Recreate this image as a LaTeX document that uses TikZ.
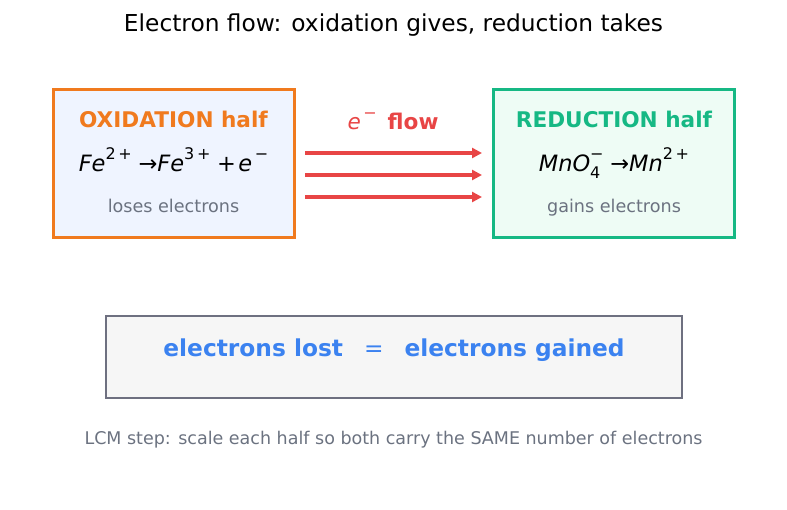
\documentclass[tikz,border=0pt]{standalone}
\usepackage{fontspec}
\setmainfont{DejaVu Sans}
\usetikzlibrary{arrows.meta}
\definecolor{oxc}{HTML}{F07A1E}
\definecolor{oxf}{HTML}{EFF4FF}
\definecolor{rdc}{HTML}{16B884}
\definecolor{rdf}{HTML}{EEFCF5}
\definecolor{flowc}{HTML}{E84545}
\definecolor{bluec}{HTML}{3B82F0}
\definecolor{grayt}{HTML}{6B7280}
\definecolor{botb}{HTML}{6E7080}
\definecolor{botf}{HTML}{F6F6F6}
\newcommand\fsz[1]{\fontsize{#1}{#1}\selectfont}
\newcommand\sps[1]{\raisebox{0.55em}{\fsz{16}\upshape #1}}
\newcommand\sbs[1]{\raisebox{-0.3em}{\fsz{16}\upshape #1}}
\tikzset{
  halfbox/.style={draw, line width=3pt, minimum width=241pt, minimum height=148pt, inner sep=0pt},
  flowarrow/.style={draw=flowc, line width=3.2pt, -{Triangle[length=10pt,width=10pt]}},
  txt/.style={inner sep=0pt, anchor=base},
}
\begin{document}
\begin{tikzpicture}[x=1pt,y=-1pt]
\useasboundingbox (0,0) rectangle (787,510);
\node[txt] (title) at (393.5,32) {\fsz{23.3}Electron flow: oxidation gives, reduction takes};
% oxidation box
\node[halfbox, draw=oxc, fill=oxf] (ox) at (173.5,163.5) {};
\node[txt, text=oxc] (oxh) at (173.5,128) {\fsz{21.6}\bfseries OXIDATION half};
\node[txt] (oxe) at (173.5,172) {\fsz{22.5}\itshape Fe\sps{2\,+}\hspace{0.3em}\upshape→\itshape Fe\sps{3\,+}\hspace{0.3em}\upshape+\hspace{0.1em}\itshape e\sps{\,−}};
\node[txt, text=grayt] (oxs) at (173.5,213) {\fsz{17.6}loses electrons};
% reduction box
\node[halfbox, draw=rdc, fill=rdf] (rd) at (614,163.5) {};
\node[txt, text=rdc] (rdh) at (614,128) {\fsz{21.6}\bfseries REDUCTION half};
\node[txt] (rde) at (614,172) {\fsz{22.5}\itshape MnO\rlap{\sbs{4}}\sps{−}\hspace{0.3em}\upshape→\itshape Mn\sps{2\,+}};
\node[txt, text=grayt] (rds) at (614,213) {\fsz{17.6}gains electrons};
% flow
\node[txt, text=flowc] (fl) at (393,130) {\fsz{21.6}\itshape\mdseries e\sps{\,−}\hspace{0.5em}\upshape\bfseries flow};
\coordinate (a1s) at (305,153); \coordinate (a1e) at (482,153);
\coordinate (a2s) at (305,175); \coordinate (a2e) at (482,175);
\coordinate (a3s) at (305,197); \coordinate (a3e) at (482,197);
\draw[flowarrow] (a1s) -- (a1e);
\draw[flowarrow] (a2s) -- (a2e);
\draw[flowarrow] (a3s) -- (a3e);
% bottom box
\node[draw=botb, fill=botf, line width=2.8pt, minimum width=576pt, minimum height=82pt, inner sep=0pt] (bot) at (394,357) {};
\node[txt, text=bluec] (eq) at (394,357) {\fsz{23.3}\bfseries electrons lost\hspace{0.9em}\mdseries =\hspace{0.9em}\bfseries electrons gained};
\node[txt, text=grayt] (lcm) at (393.5,444) {\fsz{17.5}LCM step: scale each half so both carry the SAME number of electrons};
\end{tikzpicture}
\end{document}
